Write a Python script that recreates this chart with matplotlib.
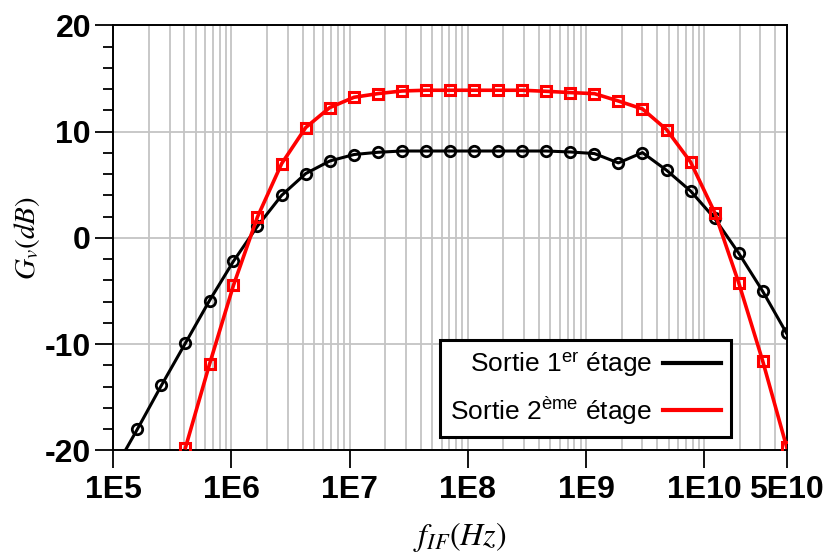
"""
Gain Gv(dB) vs IF frequency, two stages (1er / 2eme etage)
"""

import matplotlib
matplotlib.use("Agg")
import matplotlib.pyplot as plt
from matplotlib.lines import Line2D
from matplotlib.ticker import LogLocator, MultipleLocator, NullFormatter

plt.rcParams['mathtext.fontset'] = 'custom'
plt.rcParams['mathtext.rm'] = 'Liberation Sans'
plt.rcParams['mathtext.it'] = 'Liberation Sans:italic'
plt.rcParams['axes.unicode_minus'] = False

# frequencies (Hz), log-spaced sweep 1E5 -> 5E10
freq_hz = [1.0e5, 1.6e5, 2.55e5, 4.08e5, 6.52e5, 1.04e6, 1.66e6, 2.66e6, 4.25e6,
           6.79e6, 1.09e7, 1.73e7, 2.77e7, 4.43e7, 7.08e7, 1.13e8, 1.81e8, 2.89e8,
           4.61e8, 7.37e8, 1.18e9, 1.88e9, 3.01e9, 4.81e9, 7.68e9, 1.23e10,
           1.96e10, 3.13e10, 5.0e10]

# Sortie 1er etage (dB)
gain_stage1 = [-22.0, -18.0, -13.9, -9.9, -5.9, -2.2, 1.1, 4.0, 6.05, 7.23, 7.84,
               8.05, 8.17, 8.17, 8.17, 8.17, 8.17, 8.17, 8.17, 8.08, 7.93, 7.05,
               8.02, 6.36, 4.41, 1.82, -1.43, -5.02, -9.0]

# Sortie 2eme etage (dB), starts at 4.08e5
freq_stage2 = freq_hz[3:]
gain_stage2 = [-19.75, -11.89, -4.46, 1.97, 6.99, 10.38, 12.26, 13.23, 13.57, 13.82,
               13.89, 13.89, 13.89, 13.89, 13.89, 13.79, 13.67, 13.57, 12.88, 12.13,
               10.19, 7.14, 2.38, -4.21, -11.58, -19.7]

xtick_vals = [1e5, 1e6, 1e7, 1e8, 1e9, 1e10, 5e10]
xtick_labels = ['1E5', '1E6', '1E7', '1E8', '1E9', '1E10', '5E10']
ytick_vals = [-20, -10, 0, 10, 20]

fig = plt.figure(figsize=(8.26, 5.53), dpi=100)
ax = fig.add_axes([0.1372, 0.1857, 0.8152, 0.7685])

ax.plot(freq_hz, gain_stage1, color='black', lw=2.2, marker='o', ms=7.5,
        mfc='none', mec='black', mew=2.0, zorder=3)
ax.plot(freq_stage2, gain_stage2, color='#ff0000', lw=2.6, marker='s', ms=7.5,
        mfc='none', mec='#ff0000', mew=2.2, zorder=4)

ax.set_xscale('log')
ax.set_xlim(1e5, 5e10)
ax.set_ylim(-20, 20)

ax.set_xticks(xtick_vals)
ax.set_xticklabels(xtick_labels)
ax.xaxis.set_minor_locator(LogLocator(base=10, subs=range(2, 10), numticks=20))
ax.xaxis.set_minor_formatter(NullFormatter())
ax.set_yticks(ytick_vals)
ax.yaxis.set_minor_locator(MultipleLocator(2))

ax.grid(True, which='both', axis='x', color='#c4c4c4', lw=1.3, zorder=0)
ax.grid(True, which='major', axis='y', color='#c4c4c4', lw=1.3, zorder=0)

ax.tick_params(axis='x', which='major', direction='out', length=13, width=1.3, pad=5)
ax.tick_params(axis='x', which='minor', length=0)
ax.tick_params(axis='y', which='major', direction='out', length=13, width=1.3, pad=3)
ax.tick_params(axis='y', which='minor', direction='out', length=7, width=1.3)

for lab in ax.get_xticklabels() + ax.get_yticklabels():
    lab.set_fontfamily('Liberation Sans')
    lab.set_fontweight('bold')
    lab.set_fontsize(23)

for sp in ax.spines.values():
    sp.set_linewidth(1.4)
    sp.set_color('black')

ax.set_xlabel(r'$f_{IF}(Hz)$', fontsize=23, math_fontfamily='stix', labelpad=13)
ax.set_ylabel(r'$G_v(dB)$', fontsize=21, math_fontfamily='stix', labelpad=2)
ax.xaxis.set_label_coords(0.515, -0.165)

handles = [Line2D([], [], color='black', lw=3),
           Line2D([], [], color='#ff0000', lw=3)]
labels = [r'Sortie 1$^{\mathrm{er}}$ étage', r'Sortie 2$^{\mathrm{ème}}$ étage']
leg = ax.legend(handles, labels, loc='lower right', bbox_to_anchor=(0.918, 0.031),
                markerfirst=False, fancybox=False, framealpha=1,
                prop={'family': 'Liberation Sans', 'size': 19},
                handlelength=2.2, labelspacing=0.55, borderpad=0.4, handletextpad=0.4,
                borderaxespad=0)
leg.get_frame().set_edgecolor('black')
leg.get_frame().set_linewidth(2.2)

plt.savefig('out.png', dpi=100)
